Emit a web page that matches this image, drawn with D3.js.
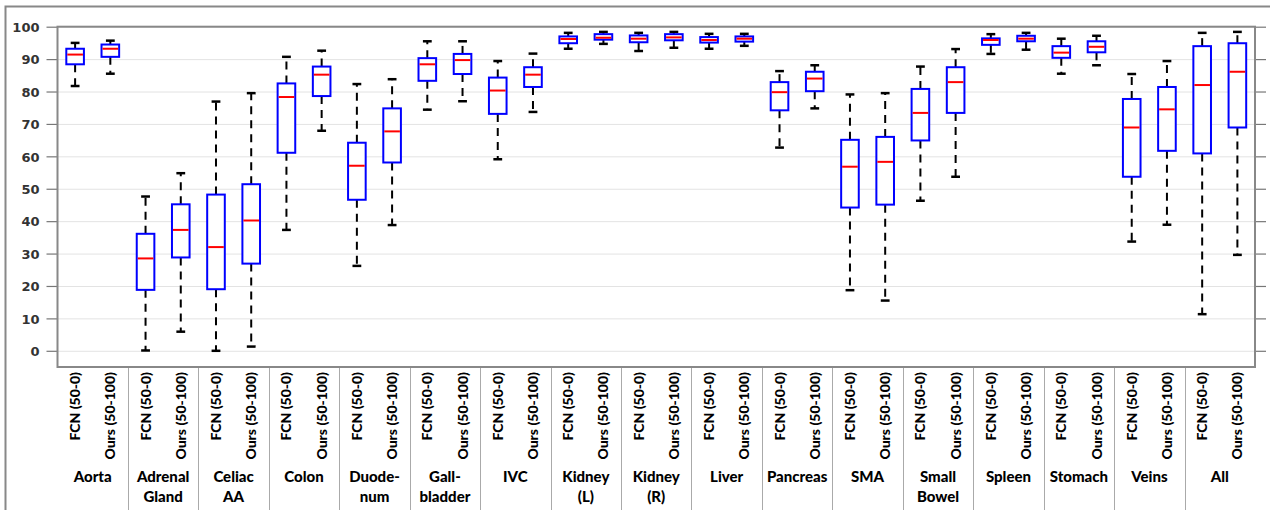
<!DOCTYPE html>
<html lang="en">
<head>
    <meta charset="UTF-8">
    <title>FCN vs Ours per organ</title>
    <script src="https://d3js.org/d3.v7.min.js"></script>
    <style>
        body { margin: 0; background: #fff; }
        .ytick text {
            font-family: "DejaVu Sans", sans-serif;
            font-weight: bold;
            font-size: 13px;
            fill: #333;
        }
        .method-label {
            font-family: Lato, "Open Sans", sans-serif;
            font-weight: 900;
            font-size: 14px;
            fill: #000;
        }
        .organ-label {
            font-family: Lato, "Open Sans", sans-serif;
            font-weight: 900;
            font-size: 15px;
            fill: #000;
        }
    </style>
</head>
<body>
    <div id="chart"></div>
    <script>
        // organ groups (second line of label after "|")
        const organs = ["Aorta", "Adrenal|Gland", "Celiac|AA", "Colon", "Duode-|num", "Gall-|bladder",
                        "IVC", "Kidney|(L)", "Kidney|(R)", "Liver", "Pancreas", "SMA", "Small|Bowel",
                        "Spleen", "Stomach", "Veins", "All"];
        const methods = ["FCN (50-0)", "Ours (50-100)"];

        // [lower whisker, q1, median, q3, upper whisker]
        const fcnStats = [
            [81.7, 88.4, 91.4, 93.2, 95.0],
            [0.1, 18.8, 28.5, 36.1, 47.6],
            [0.0, 19.0, 32.0, 48.2, 76.9],
            [37.3, 61.1, 78.3, 82.5, 90.7],
            [26.2, 46.6, 57.1, 64.2, 82.3],
            [74.4, 83.3, 88.4, 90.3, 95.5],
            [59.1, 73.1, 80.3, 84.3, 89.4],
            [93.2, 94.9, 96.2, 97.0, 98.1],
            [92.5, 95.2, 96.3, 97.3, 98.1],
            [93.2, 95.1, 95.9, 96.8, 97.8],
            [62.7, 74.2, 79.8, 82.9, 86.3],
            [18.7, 44.2, 56.8, 65.1, 79.1],
            [46.3, 64.9, 73.4, 80.8, 87.7],
            [91.6, 94.4, 95.9, 96.4, 97.7],
            [85.5, 90.4, 92.0, 94.0, 96.3],
            [33.7, 53.7, 68.9, 77.7, 85.4],
            [11.3, 60.9, 82.0, 94.0, 98.1]
        ];
        const oursStats = [
            [85.5, 90.7, 93.2, 94.5, 95.7],
            [5.9, 28.8, 37.3, 45.2, 54.8],
            [1.3, 26.9, 40.2, 51.4, 79.5],
            [67.9, 78.6, 85.2, 87.7, 92.6],
            [38.8, 58.1, 67.7, 74.8, 83.8],
            [77.0, 85.4, 89.7, 91.6, 95.5],
            [73.7, 81.4, 85.2, 87.5, 91.7],
            [94.7, 96.0, 96.6, 97.7, 98.4],
            [93.5, 95.8, 96.7, 97.7, 98.4],
            [94.1, 95.4, 96.3, 97.0, 97.8],
            [74.8, 80.1, 84.0, 86.1, 88.1],
            [15.5, 45.1, 58.3, 66.0, 79.5],
            [53.7, 73.4, 82.9, 87.5, 93.1],
            [92.9, 95.5, 96.3, 97.2, 98.1],
            [88.1, 92.1, 93.8, 95.5, 97.2],
            [38.9, 61.7, 74.5, 81.4, 89.4],
            [29.6, 68.9, 86.1, 94.9, 98.4]
        ];
        const yTicks = [0, 10, 20, 30, 40, 50, 60, 70, 80, 90, 100];

        const W = 1270, H = 510;
        const plot = { left: 57.5, right: 1255, top: 26.7, bottom: 367 };

        const svg = d3.select("#chart").append("svg")
            .attr("width", W).attr("height", H);

        // flatten into boxes: position 1..34
        const boxes = [];
        organs.forEach((o, i) => {
            boxes.push({ pos: 2 * i + 1, s: fcnStats[i], method: methods[0] });
            boxes.push({ pos: 2 * i + 2, s: oursStats[i], method: methods[1] });
        });

        const x = d3.scaleLinear().domain([0.5, boxes.length + 0.5]).range([plot.left, plot.right]);
        const y = d3.scaleLinear().domain([-5, 100]).range([plot.bottom, plot.top]);
        const halfW = x(0.25) - x(0);

        // outer frame
        svg.append("path")
            .attr("d", `M5.5,${H} V6.5 H${W}`)
            .attr("fill", "none").attr("stroke", "#888").attr("stroke-width", 2);

        // gridlines
        svg.append("g")
            .attr("transform", `translate(${plot.left},0)`)
            .call(d3.axisLeft(y).tickValues(yTicks).tickSize(-(plot.right - plot.left)).tickFormat(""))
            .call(g => g.select(".domain").remove())
            .call(g => g.selectAll("line").attr("stroke", "#e3e3e3").attr("stroke-width", 1));

        // left axis
        svg.append("g")
            .attr("class", "ytick")
            .attr("transform", `translate(${plot.left},0)`)
            .call(d3.axisLeft(y).tickValues(yTicks).tickSize(11).tickPadding(7))
            .call(g => g.select(".domain").remove())
            .call(g => g.selectAll("line").attr("stroke", "#777").attr("stroke-width", 1.2))
            .call(g => g.selectAll("text").attr("fill", "#333").attr("dy", "0.36em"));

        // right axis ticks
        svg.append("g")
            .attr("transform", `translate(${plot.right},0)`)
            .call(d3.axisRight(y).tickValues(yTicks).tickSize(11).tickFormat(""))
            .call(g => g.select(".domain").remove())
            .call(g => g.selectAll("line").attr("stroke", "#777").attr("stroke-width", 1.2));

        // group separators below plot
        d3.range(1, organs.length).forEach(k => {
            const xs = Math.round(x(2 * k + 0.5)) + 0.5;
            svg.append("line")
                .attr("x1", xs).attr("x2", xs)
                .attr("y1", plot.bottom).attr("y2", H)
                .attr("stroke", "#aaa").attr("stroke-width", 1);
        });

        // plot border
        svg.append("rect")
            .attr("x", plot.left).attr("y", plot.top)
            .attr("width", plot.right - plot.left).attr("height", plot.bottom - plot.top)
            .attr("fill", "none").attr("stroke", "#888").attr("stroke-width", 2);

        // boxes
        const bx = svg.append("g").selectAll("g").data(boxes).join("g");

        bx.append("line") // upper whisker
            .attr("x1", d => x(d.pos)).attr("x2", d => x(d.pos))
            .attr("y1", d => y(d.s[3])).attr("y2", d => y(d.s[4]))
            .attr("stroke", "#000").attr("stroke-width", 2).attr("stroke-dasharray", "8,6");
        bx.append("line") // lower whisker
            .attr("x1", d => x(d.pos)).attr("x2", d => x(d.pos))
            .attr("y1", d => y(d.s[1])).attr("y2", d => y(d.s[0]))
            .attr("stroke", "#000").attr("stroke-width", 2).attr("stroke-dasharray", "8,6");
        bx.selectAll(".cap").data(d => [d.s[0], d.s[4]].map(v => ({ pos: d.pos, v })))
            .join("line")
            .attr("class", "cap")
            .attr("x1", d => x(d.pos) - halfW / 2).attr("x2", d => x(d.pos) + halfW / 2)
            .attr("y1", d => y(d.v)).attr("y2", d => y(d.v))
            .attr("stroke", "#000").attr("stroke-width", 2.5);
        bx.append("rect")
            .attr("x", d => x(d.pos) - halfW).attr("width", 2 * halfW)
            .attr("y", d => y(d.s[3])).attr("height", d => y(d.s[1]) - y(d.s[3]))
            .attr("fill", "#fff").attr("stroke", "#0000ff").attr("stroke-width", 2);
        bx.append("line")
            .attr("x1", d => x(d.pos) - halfW + 1).attr("x2", d => x(d.pos) + halfW - 1)
            .attr("y1", d => y(d.s[2])).attr("y2", d => y(d.s[2]))
            .attr("stroke", "#ff0000").attr("stroke-width", 2);

        // method labels (rotated)
        svg.append("g").selectAll("text").data(boxes).join("text")
            .attr("class", "method-label")
            .attr("transform", d => `translate(${x(d.pos) + 5},${plot.bottom + 5}) rotate(-90)`)
            .attr("text-anchor", "end")
            .text(d => d.method);

        // organ labels
        const ol = svg.append("g").selectAll("text").data(organs).join("text")
            .attr("class", "organ-label")
            .attr("text-anchor", "middle")
            .attr("x", (d, i) => x(2 * i + 1.5))
            .attr("y", 482);
        ol.each(function(d) {
            const parts = d.split("|");
            const t = d3.select(this);
            parts.forEach((p, j) => {
                t.append("tspan")
                    .attr("x", t.attr("x"))
                    .attr("dy", j === 0 ? 0 : 20)
                    .text(p);
            });
        });
    </script>
</body>
</html>
